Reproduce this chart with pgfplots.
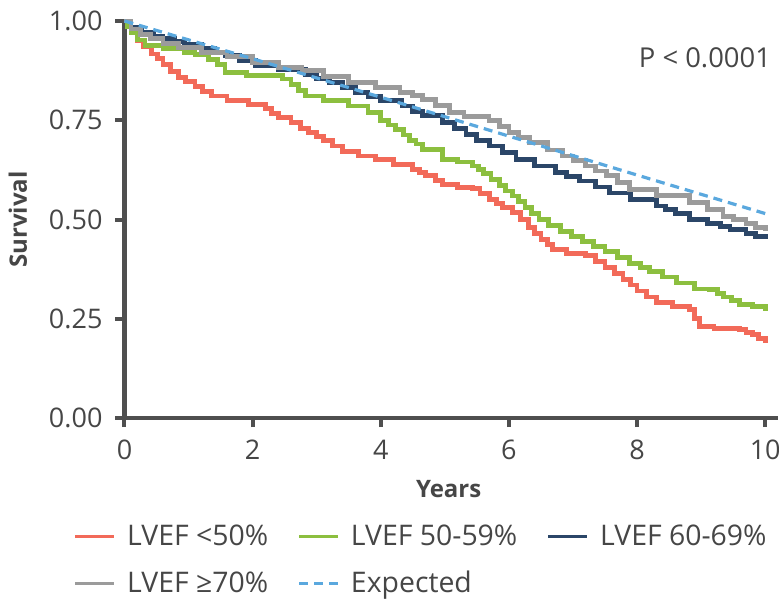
\documentclass[border=0pt]{standalone}
\usepackage{pgfplots}
\pgfplotsset{compat=1.18}
\usepackage{fontspec}
\setmainfont{Open Sans}
\definecolor{cred}{HTML}{F26A59}
\definecolor{cgreen}{HTML}{8CBF3F}
\definecolor{cnavy}{HTML}{2B4668}
\definecolor{cgray}{HTML}{9B9B9B}
\definecolor{cblue}{HTML}{5AA8DE}
\definecolor{axgray}{HTML}{4F4F4F}
\definecolor{txgray}{HTML}{464646}
\begin{document}
\begin{tikzpicture}
\begin{axis}[
  scale only axis,
  width=326.75pt, height=198.5pt,
  xmin=0, xmax=10.2, ymin=0, ymax=1,
  axis lines*=left,
  axis line style={line width=2.1pt, color=axgray},
  xtick={0,2,4,6,8,10},
  ytick={0,0.25,0.5,0.75,1},
  yticklabels={0.00,0.25,0.50,0.75,1.00},
  tick align=outside,
  major tick length=4.5pt,
  tick style={line width=2pt, color=axgray},
  /pgf/number format/assume math mode=true,
  ticklabel style={font=\fontsize{13.5}{15}\selectfont, text=txgray},
  yticklabel style={xshift=-3pt},
  xticklabel style={yshift=-3pt},
  xlabel={Years},
  ylabel={Survival},
  xlabel style={font=\bfseries\fontsize{12}{14}\selectfont, text=txgray, at={(axis description cs:0.496,-0.18)}, anchor=center},
  ylabel style={font=\bfseries\fontsize{12}{14}\selectfont, text=txgray, at={(axis description cs:-0.163,0.5)}, anchor=center},
  clip=false,
  legend columns=3,
  legend cell align=left,
  legend style={draw=none, fill=none, at={(axis description cs:-0.088,-0.2475)}, anchor=north west,
    font=\fontsize{14.2}{16}\selectfont, text=txgray, row sep=7.5pt,
    /tikz/every odd column/.append style={column sep=3.5pt},
    /tikz/every even column/.append style={column sep=12.5pt}},
  legend image code/.code={\draw[#1, line width=1.9pt] (0pt,0pt) -- (19.5pt,0pt);},
]
\addplot[const plot, line width=2.4pt, color=cred] coordinates {
(0,1) (0.05,0.985) (0.1,0.97) (0.2,0.95) (0.3,0.935) (0.42,0.917) (0.52,0.905) (0.6,0.89) (0.72,0.872) (0.84,0.858) (0.95,0.848) (1.1,0.835) (1.22,0.822) (1.36,0.811) (1.6,0.80) (1.94,0.79) (2.2,0.78) (2.3,0.768) (2.4,0.757) (2.6,0.745) (2.75,0.73) (2.87,0.719) (3.0,0.71) (3.1,0.70) (3.25,0.685) (3.4,0.672) (3.65,0.66) (3.92,0.652) (4.2,0.638) (4.49,0.626) (4.6,0.618) (4.7,0.61) (4.85,0.598) (4.96,0.588) (5.2,0.58) (5.43,0.578) (5.55,0.565) (5.7,0.55) (5.8,0.54) (5.9,0.53) (6.06,0.517) (6.18,0.50) (6.3,0.48) (6.4,0.465) (6.5,0.45) (6.6,0.437) (6.68,0.424) (6.9,0.415) (7.2,0.41) (7.35,0.395) (7.5,0.38) (7.65,0.365) (7.78,0.348) (7.9,0.335) (8.0,0.32) (8.15,0.305) (8.3,0.29) (8.55,0.28) (8.82,0.273) (8.9,0.25) (8.98,0.231) (9.2,0.225) (9.6,0.222) (9.7,0.215) (9.8,0.21) (9.9,0.20) (10,0.19)
};
\addlegendentry{LVEF <50\%}
\addplot[const plot, line width=2.4pt, color=cgreen] coordinates {
(0,1) (0.05,0.985) (0.1,0.97) (0.2,0.952) (0.32,0.938) (0.6,0.93) (0.94,0.921) (1.1,0.915) (1.31,0.904) (1.45,0.89) (1.57,0.870) (1.9,0.862) (2.46,0.854) (2.6,0.84) (2.72,0.825) (2.82,0.811) (3.1,0.80) (3.5,0.786) (3.8,0.77) (4.0,0.75) (4.12,0.738) (4.23,0.727) (4.35,0.713) (4.45,0.70) (4.55,0.69) (4.65,0.677) (4.96,0.652) (5.2,0.645) (5.43,0.635) (5.52,0.625) (5.6,0.615) (5.72,0.60) (5.85,0.585) (5.95,0.572) (6.06,0.559) (6.15,0.545) (6.25,0.53) (6.35,0.515) (6.47,0.5) (6.62,0.485) (6.8,0.47) (6.98,0.458) (7.15,0.445) (7.32,0.432) (7.5,0.42) (7.7,0.405) (7.88,0.39) (8.05,0.38) (8.2,0.37) (8.4,0.355) (8.61,0.34) (8.9,0.325) (9.13,0.323) (9.25,0.313) (9.35,0.305) (9.48,0.295) (9.6,0.285) (9.8,0.28) (10,0.27)
};
\addlegendentry{LVEF 50-59\%}
\addplot[const plot, line width=2.4pt, color=cnavy] coordinates {
(0,1) (0.1,0.985) (0.27,0.971) (0.45,0.962) (0.6,0.955) (0.78,0.948) (0.94,0.942) (1.2,0.93) (1.4,0.92) (1.57,0.913) (1.8,0.90) (2.04,0.888) (2.4,0.877) (2.82,0.866) (3.0,0.856) (3.2,0.845) (3.4,0.832) (3.61,0.82) (3.8,0.81) (4.0,0.80) (4.33,0.786) (4.5,0.773) (4.65,0.761) (4.96,0.744) (5.15,0.73) (5.33,0.715) (5.5,0.70) (5.7,0.685) (5.9,0.668) (6.11,0.652) (6.4,0.635) (6.73,0.618) (6.9,0.608) (7.1,0.597) (7.35,0.582) (7.57,0.567) (7.9,0.55) (8.3,0.534) (8.45,0.525) (8.6,0.515) (8.82,0.5) (9.1,0.49) (9.3,0.482) (9.45,0.475) (9.7,0.465) (9.85,0.457) (10,0.45)
};
\addlegendentry{LVEF 60-69\%}
\addplot[const plot, line width=2.4pt, color=cgray] coordinates {
(0,1) (0.1,0.98) (0.25,0.965) (0.4,0.955) (0.6,0.943) (0.84,0.933) (1.2,0.92) (1.6,0.91) (2.0,0.895) (2.4,0.883) (2.77,0.875) (3.1,0.86) (3.5,0.845) (3.92,0.832) (4.3,0.82) (4.5,0.812) (4.65,0.803) (4.85,0.788) (5.07,0.77) (5.3,0.76) (5.69,0.749) (5.85,0.735) (6.0,0.72) (6.15,0.707) (6.32,0.694) (6.6,0.675) (6.84,0.66) (7.0,0.648) (7.2,0.635) (7.35,0.622) (7.52,0.61) (7.7,0.593) (7.88,0.576) (8.3,0.56) (8.82,0.542) (9.1,0.525) (9.34,0.508) (9.5,0.50) (9.7,0.49) (9.85,0.48) (10,0.47)
};
\addlegendentry{LVEF ≥70\%}
\addplot[line width=1.6pt, color=cblue, dash pattern=on 4.5pt off 3pt] coordinates {
(0,1) (2,0.905) (4,0.808) (6,0.71) (8,0.612) (10,0.515)
};
\addlegendentry{Expected}
\node[anchor=east, font=\fontsize{13.7}{15}\selectfont, text=txgray] at (axis cs:10.2,0.908) {P < 0.0001};
\end{axis}
\pgfresetboundingbox
\useasboundingbox (-62.25pt,-91.5pt) rectangle (327.25pt,209pt);
\end{tikzpicture}
\end{document}
